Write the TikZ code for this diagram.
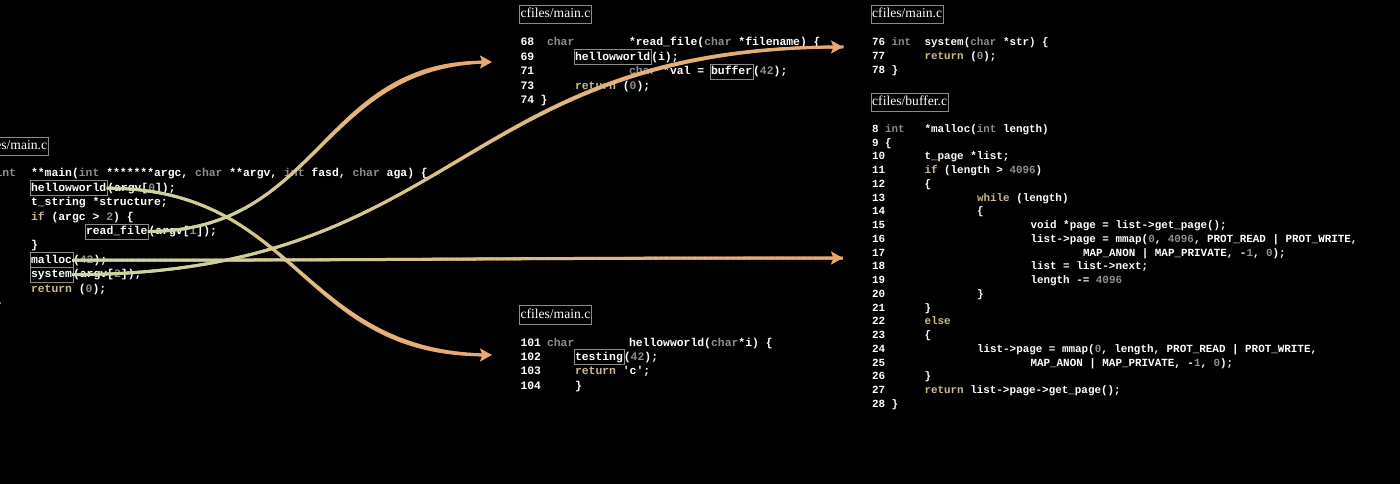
\documentclass[tikz,border=0pt]{standalone}
\usepackage{fontspec}
\setmainfont{Liberation Serif}
\setmonofont{Liberation Mono}
\usetikzlibrary{calc,arrows.meta,decorations.markings}
\definecolor{kwgray}{HTML}{8C8C8C}
\definecolor{numgray}{HTML}{8E8E8E}
\definecolor{khaki}{HTML}{CBBB8A}
\definecolor{boxgray}{HTML}{8A8A8A}
\definecolor{linkgreen}{HTML}{C8D8A4}
\definecolor{linkorange}{HTML}{EAA76C}
\newcommand\cfA{\ttfamily\bfseries\fontsize{11.4}{13}\selectfont}
\newcommand\cfB{\ttfamily\bfseries\fontsize{10.9}{13}\selectfont}
\newcommand\Kw[1]{\textcolor{kwgray}{#1}}
\newcommand\Nm[1]{\textcolor{numgray}{#1}}
\newcommand\Rk[1]{\textcolor{khaki}{#1}}
\newcommand\gradseg{%
  \pgfmathtruncatemacro\gp{100*(\pgfkeysvalueof{/pgf/decoration/mark info/distance from start}/\pgfdecoratedpathlength)}%
  \fill[linkorange!\gp!linkgreen] (-0.9pt,-1.5pt) rectangle (0.9pt,1.5pt);}
\tikzset{
  codeA/.style={anchor=base west, inner sep=0pt, outer sep=0pt, text=white, font=\cfA},
  codeB/.style={anchor=base west, inner sep=0pt, outer sep=0pt, text=white, font=\cfB},
  fnA/.style={codeA, draw=boxgray, line width=0.7pt, inner xsep=1pt, inner ysep=1pt, text height=9.6pt, text depth=3.4pt},
  hdr/.style={draw=boxgray, line width=0.7pt, text=white, font=\fontsize{13.6}{15}\selectfont, inner xsep=1.2pt, inner ysep=2.5pt, text height=10pt, text depth=3.5pt, outer sep=0pt},
  link/.style={draw=linkorange, line width=2.6pt, line cap=butt,
    -{Stealth[length=12pt,width=13pt,inset=2.5pt]},
    postaction={decorate, decoration={markings,
      mark=between positions 0 and -9pt step 1.2pt with {\gradseg}}}}
}
\begin{document}
\begin{tikzpicture}[x=1pt,y=-1pt]
\useasboundingbox (0,0) rectangle (1400,484);
\fill[black] (0,0) rectangle (1400,484);

% ---------- Block 1 (left) ----------
\node[hdr, anchor=east] (h1) at (48.3,146.2) {cfiles/main.c};
\node[codeA] (a1t) at (-4.5,176.9) {\Kw{int}};
\node[codeA] (a1) at (31,176.9) {**main(\Kw{int} *******argc, \Kw{char} **argv, \Kw{int} fasd, \Kw{char} aga) \{};
\node[fnA] (hw) at (30,191.3) {hellowworld};
\node[codeA] (a2) at (hw.base east) {(argv[\Nm{0}]);};
\node[codeA] (a3) at (31,205.7) {t\_string *structure;};
\node[codeA] (a4) at (31,220.1) {\Rk{if} (argc > \Nm{2}) \{};
\node[fnA] (rf) at (85,234.5) {read\_file};
\node[codeA] (a5) at (rf.base east) {(argv[\Nm{1}]);};
\node[codeA] (a6) at (31,248.9) {\}};
\node[fnA] (ml) at (30,263.3) {malloc};
\node[codeA] (a7) at (ml.base east) {(\Nm{42});};
\node[fnA] (sy) at (30,277.7) {system};
\node[codeA] (a8) at (sy.base east) {(argv[\Nm{2}]);};
\node[codeA] (a9) at (31,292.1) {\Rk{return} (\Nm{0});};
\node[codeA] (a10) at (-5,306.5) {\}};

% ---------- Block 2 (top middle) ----------
\node[hdr, anchor=west] (h2) at (519.3,14.5) {cfiles/main.c};
\node[codeA] (n68) at (520.5,46) {68};
\node[codeA] (k68) at (547,46) {\Kw{char}};
\node[codeA] (c68) at (629,46) {*read\_file(\Kw{char} *filename) \{};
\node[codeA] (n69) at (520.5,60.45) {69};
\node[fnA] (hw2) at (574,60.45) {hellowworld};
\node[codeA] (c69) at (hw2.base east) {(i);};
\node[codeA] (n71) at (520.5,74.9) {71};
\node[codeA] (c71) at (629,74.9) {\Kw{char} *val =};
\node[fnA] (bf) at (710.1,74.9) {buffer};
\node[codeA] (d71) at (bf.base east) {(\Nm{42});};
\node[codeA] (n73) at (520.5,89.35) {73};
\node[codeA] (c73) at (575,89.35) {\Rk{return} (\Nm{0});};
\node[codeA] (n74) at (520.5,103.8) {74};
\node[codeA] (c74) at (540.5,103.8) {\}};

% ---------- Block 3 (bottom middle) ----------
\node[hdr, anchor=west] (h3) at (519.3,315) {cfiles/main.c};
\node[codeA] (n101) at (520.5,346) {101};
\node[codeA] (k101) at (547,346) {\Kw{char}};
\node[codeA] (c101) at (629,346) {hellowworld(\Kw{char}*i) \{};
\node[codeA] (n102) at (520.5,360.4) {102};
\node[fnA] (ts) at (574,360.4) {testing};
\node[codeA] (c102) at (ts.base east) {(\Nm{42});};
\node[codeA] (n103) at (520.5,374.8) {103};
\node[codeA] (c103) at (575,374.8) {\Rk{return} 'c';};
\node[codeA] (n104) at (520.5,389.2) {104};
\node[codeA] (c104) at (575,389.2) {\}};

% ---------- Block 4 (top right) ----------
\node[hdr, anchor=west] (h4) at (871,14.2) {cfiles/main.c};
\node[codeB] (n76) at (872,46) {76};
\node[codeB] (k76) at (891.5,46) {\Kw{int}};
\node[codeB] (c76) at (924.5,46) {system(\Kw{char} *str) \{};
\node[codeB] (n77) at (872,59.7) {77};
\node[codeB] (c77) at (924.5,59.7) {\Rk{return} (\Nm{0});};
\node[codeB] (n78) at (872,73.4) {78};
\node[codeB] (c78) at (891.5,73.4) {\}};

% ---------- Block 5 (buffer.c) ----------
\node[hdr, anchor=west] (h5) at (871,102.5) {cfiles/buffer.c};
\foreach \n in {8,...,28}{
  \node[codeB] (ln\n) at (872,{132.5+(\n-8)*13.74}) {\n};
}
\node[codeB] (k8) at (885,132.5) {\Kw{int}};
\node[codeB] (c8) at (924.5,132.5) {*malloc(\Kw{int} length)};
\node[codeB] (c9) at (885,146.24) {\{};
\node[codeB] (c10) at (924.5,159.98) {t\_page *list;};
\node[codeB] (c11) at (924.5,173.72) {\Rk{if} (length > \Nm{4096})};
\node[codeB] (c12) at (924.5,187.46) {\{};
\node[codeB] (c13) at (977,201.2) {\Rk{while} (length)};
\node[codeB] (c14) at (977,214.94) {\{};
\node[codeB] (c15) at (1030.5,228.68) {void *page = list->get\_page();};
\node[codeB] (c16) at (1030.5,242.42) {list->page = mmap(\Nm{0}, \Nm{4096}, PROT\_READ | PROT\_WRITE,};
\node[codeB] (c17) at (1083,256.16) {MAP\_ANON | MAP\_PRIVATE, -\Nm{1}, \Nm{0});};
\node[codeB] (c18) at (1030.5,269.9) {list = list->next;};
\node[codeB] (c19) at (1030.5,283.64) {length -= \Nm{4096}};
\node[codeB] (c20) at (977,297.38) {\}};
\node[codeB] (c21) at (924.5,311.12) {\}};
\node[codeB] (c22) at (924.5,324.86) {\Rk{else}};
\node[codeB] (c23) at (924.5,338.6) {\{};
\node[codeB] (c24) at (977,352.34) {list->page = mmap(\Nm{0}, length, PROT\_READ | PROT\_WRITE,};
\node[codeB] (c25) at (1030.5,366.08) {MAP\_ANON | MAP\_PRIVATE, -\Nm{1}, \Nm{0});};
\node[codeB] (c26) at (924.5,379.82) {\}};
\node[codeB] (c27) at (924.5,393.56) {\Rk{return} list->page->get\_page();};
\node[codeB] (c28) at (891.5,407.3) {\}};

% ---------- Links ----------
\coordinate (t1) at (492,355);
\coordinate (t2) at (492,62);
\coordinate (t3) at (843,47);
\coordinate (t4) at (843,258);
\coordinate (m1) at ($(hw.east)!0.5!(t1)$);
\coordinate (m2) at ($(rf.east)!0.5!(t2)$);
\coordinate (m3) at ($(sy.east)!0.5!(t3)$);
\coordinate (m4) at ($(ml.east)!0.5!(t4)$);
\draw[link] (hw.east) .. controls (m1 |- hw.east) and (m1 |- t1) .. (t1);
\draw[link] (rf.east) .. controls (m2 |- rf.east) and (m2 |- t2) .. (t2);
\draw[link] (ml.east) .. controls (m4 |- ml.east) and (m4 |- t4) .. (t4);
\draw[link] (sy.east) .. controls (m3 |- sy.east) and (m3 |- t3) .. (t3);
\end{tikzpicture}
\end{document}
